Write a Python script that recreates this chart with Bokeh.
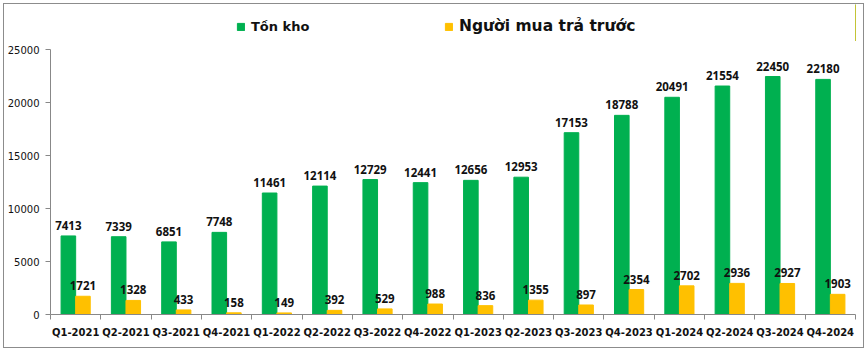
from bokeh.plotting import figure
from bokeh.models import (ColumnDataSource, FixedTicker, Range1d, Legend, LegendItem,
                          LabelSet)
from bokeh.layouts import column
from bokeh.core.properties import value
from bokeh.embed import file_html
from bokeh.resources import INLINE

quarters = ["Q1-2021", "Q2-2021", "Q3-2021", "Q4-2021",
            "Q1-2022", "Q2-2022", "Q3-2022", "Q4-2022",
            "Q1-2023", "Q2-2023", "Q3-2023", "Q4-2023",
            "Q1-2024", "Q2-2024", "Q3-2024", "Q4-2024"]
ton_kho = [7413, 7339, 6851, 7748, 11461, 12114, 12729, 12441,
           12656, 12953, 17153, 18788, 20491, 21554, 22450, 22180]
nguoi_mua = [1721, 1328, 433, 158, 149, 392, 529, 988,
             836, 1355, 897, 2354, 2702, 2936, 2927, 1903]
y_ticks = [0, 5000, 10000, 15000, 20000, 25000]
series_names = ["Tồn kho", "Người mua trả trước"]

GREEN = "#00B050"
YELLOW = "#FFC000"
BW = 0.29

idx = list(range(len(quarters)))
centers = [i + 0.5 for i in idx]
src = ColumnDataSource(dict(
    xg=[c - BW / 2 for c in centers],
    xy=[c + BW / 2 for c in centers],
    g=ton_kho, yv=nguoi_mua,
    gl=[str(v) for v in ton_kho], yl=[str(v) for v in nguoi_mua],
))

# ---------- legend strip ----------
lf = figure(width=859, height=37, output_backend="svg", toolbar_location=None,
            x_range=Range1d(0, 1), y_range=Range1d(0, 1),
            min_border=0, x_axis_type=None, y_axis_type=None)
lf.outline_line_color = None
lf.xgrid.visible = False
lf.ygrid.visible = False
# swatch renderers (kept outside the visible range; only used for legend swatches)
dg = lf.vbar(x=[5], top=[1], width=0.1, fill_color=GREEN, line_color=GREEN)
dy = lf.vbar(x=[5], top=[1], width=0.1, fill_color=YELLOW, line_color=YELLOW)
for name, r, loc, fs in ((series_names[0], dg, (186, 7), "13px"),
                         (series_names[1], dy, (394, 6), "15.5px")):
    lf.add_layout(Legend(items=[LegendItem(label=name, renderers=[r])],
                         location=loc, orientation="horizontal",
                         glyph_width=9, glyph_height=9, label_standoff=6,
                         label_text_font="DejaVu Sans", label_text_font_style="bold",
                         label_text_font_size=fs, label_text_color="#111",
                         border_line_color=None, background_fill_alpha=0,
                         padding=0, margin=0, spacing=0), "center")

# ---------- main chart ----------
p = figure(width=859, height=306, output_backend="svg", toolbar_location=None,
           x_range=Range1d(0, len(quarters)), y_range=Range1d(y_ticks[0], y_ticks[-1]),
           min_border_left=45, min_border_right=8, min_border_top=8,
           min_border_bottom=33)
p.outline_line_color = None
p.xgrid.visible = False
p.ygrid.visible = False

p.vbar(x="xg", top="g", width=BW, bottom=0, source=src,
       fill_color=GREEN, line_color=GREEN)
p.vbar(x="xy", top="yv", width=BW, bottom=0, source=src,
       fill_color=YELLOW, line_color=YELLOW)

for xf, yf, tf in (("xg", "g", "gl"), ("xy", "yv", "yl")):
    p.add_layout(LabelSet(x=xf, y=yf, text=tf, source=src, text_align="center",
                          text_baseline="bottom", y_offset=6,
                          text_font=value("Open Sans"), text_font_style="bold",
                          text_font_size="11.5px", text_color="#111"))

p.yaxis.ticker = FixedTicker(ticks=y_ticks, minor_ticks=[])
p.yaxis.axis_line_color = "#888888"
p.yaxis.major_tick_line_color = "#888888"
p.yaxis.major_tick_out = 5
p.yaxis.major_tick_in = 0
p.yaxis.minor_tick_line_color = None
p.yaxis.major_label_text_font = "DejaVu Sans"
p.yaxis.major_label_text_font_size = "10px"
p.yaxis.major_label_text_color = "#111"
p.yaxis.major_label_standoff = 6

p.xaxis.ticker = FixedTicker(ticks=centers,
                             minor_ticks=[float(i) for i in range(len(quarters) + 1)])
p.xaxis.major_label_overrides = {c: q for c, q in zip(centers, quarters)}
p.xaxis.major_tick_line_color = None
p.xaxis.minor_tick_line_color = "#888888"
p.xaxis.minor_tick_out = 5
p.xaxis.minor_tick_in = 0
p.xaxis.axis_line_color = "#888888"
p.xaxis.major_label_text_font = "DejaVu Sans"
p.xaxis.major_label_text_font_style = "bold"
p.xaxis.major_label_text_font_size = "10px"
p.xaxis.major_label_text_color = "#111"
p.xaxis.major_label_standoff = 6

layout = column(lf, p, spacing=0,
                styles={"border": "1px solid #8c8c8c", "margin-left": "3px",
                        "margin-top": "3px"})

open("out.html", "w").write(file_html(layout, INLINE))
